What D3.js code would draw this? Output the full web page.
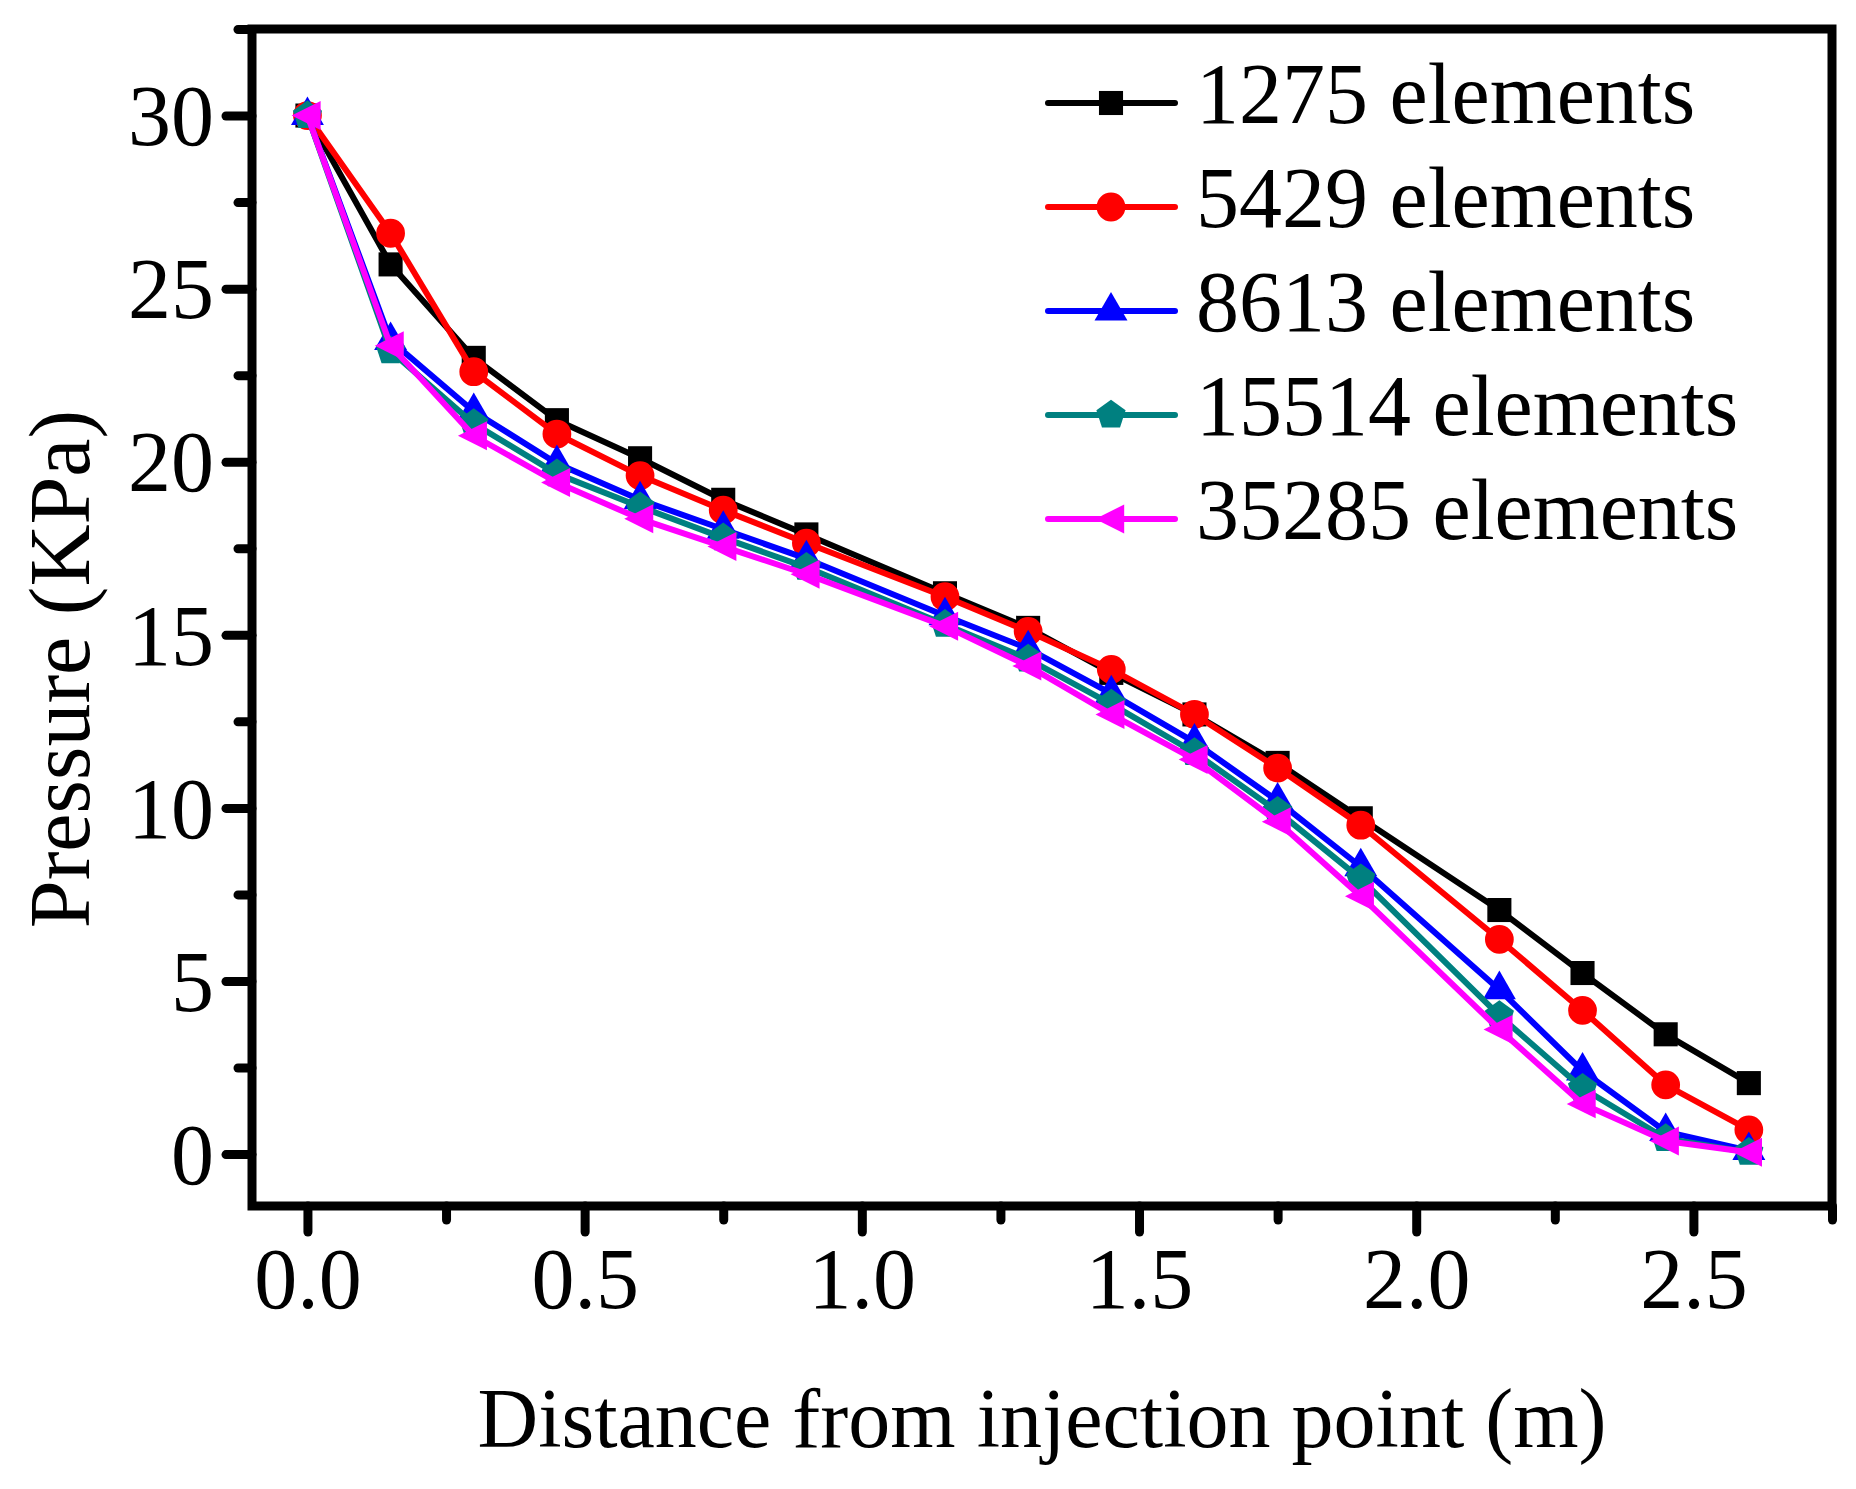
<!DOCTYPE html>
<html lang="en">
<head>
    <meta charset="UTF-8">
    <title>Pressure along the distance from injection point</title>
    <style>
        body { margin: 0; background: #fff; }
        text { font-family: "Liberation Serif", "Times New Roman", serif; fill: #000; }
    </style>
    <script src="https://cdn.jsdelivr.net/npm/d3@7"></script>
</head>
<body>
<svg width="1856" height="1489"></svg>

<script>
    // distance from the injection point (m)
    const distance = [0, 0.15, 0.3, 0.45, 0.6, 0.75, 0.9, 1.15, 1.3, 1.45, 1.6, 1.75, 1.9, 2.15, 2.3, 2.45, 2.6];

    // pressure (KPa) for each mesh
    const p1275  = [30, 25.7, 23.0, 21.2, 20.1, 18.9, 17.9, 16.2, 15.2, 13.9, 12.7, 11.3, 9.7, 7.05, 5.23, 3.46, 2.05];
    const p5429  = [30, 26.6, 22.6, 20.8, 19.6, 18.6, 17.65, 16.1, 15.1, 14.0, 12.7, 11.15, 9.5, 6.2, 4.15, 2.0, 0.7];
    const p8613  = [30, 23.5, 21.45, 19.95, 18.9, 18.05, 17.2, 15.55, 14.6, 13.3, 11.9, 10.2, 8.3, 4.75, 2.4, 0.65, 0.1];
    const p15514 = [30, 23.2, 21.1, 19.65, 18.7, 17.8, 16.95, 15.3, 14.3, 13.0, 11.6, 9.9, 7.95, 4.0, 1.9, 0.45, 0.05];
    const p35285 = [30, 23.35, 20.75, 19.4, 18.35, 17.55, 16.75, 15.25, 14.1, 12.7, 11.4, 9.6, 7.45, 3.6, 1.45, 0.38, 0.05];

    const seriesNames = ["1275 elements", "5429 elements", "8613 elements", "15514 elements", "35285 elements"];
    const xTicks = [0, 0.5, 1.0, 1.5, 2.0, 2.5];
    const yTicks = [0, 5, 10, 15, 20, 25, 30];

    let svg = d3.select("svg");

    const plotLeft = 252, plotRight = 1832, plotTop = 29, plotBottom = 1206;

    let x = d3.scaleLinear().domain([-0.1, 2.75]).range([plotLeft, plotRight]);
    let y = d3.scaleLinear().domain([-1.5, 32.5]).range([plotBottom, plotTop]);

    // pentagon ("house" shape) and left pointing triangle are not in d3
    const symbolPentagon = {
        draw: function (context, size) {
            const r = Math.sqrt(size / 2.378);
            for (let i = 0; i < 5; i++) {
                const a = -Math.PI / 2 + i * 2 * Math.PI / 5;
                if (i === 0) context.moveTo(r * Math.cos(a), r * Math.sin(a));
                else context.lineTo(r * Math.cos(a), r * Math.sin(a));
            }
            context.closePath();
        }
    };
    const symbolLeftTriangle = {
        draw: function (context, size) {
            const h = Math.sqrt(size / 0.75);
            context.moveTo(-h * 0.6, 0);
            context.lineTo(h * 0.5, -h * 0.55);
            context.lineTo(h * 0.5, h * 0.55);
            context.closePath();
        }
    };

    const series = [
        {name: seriesNames[0], values: p1275, color: "#000000", symbol: d3.symbolSquare, size: 580},
        {name: seriesNames[1], values: p5429, color: "#ff0000", symbol: d3.symbolCircle, size: 650},
        {name: seriesNames[2], values: p8613, color: "#0000ff", symbol: d3.symbolTriangle, size: 470},
        {name: seriesNames[3], values: p15514, color: "#008080", symbol: symbolPentagon, size: 560},
        {name: seriesNames[4], values: p35285, color: "#ff00ff", symbol: symbolLeftTriangle, size: 520}
    ];

    // axes: major ticks with labels, minor ticks without
    function minor(ticks) {
        return d3.map(ticks.slice(0, -1), function (d, i) { return (d + ticks[i + 1]) / 2; });
    }

    let xAxis = svg.append("g").attr("transform", `translate(0,${plotBottom})`)
        .call(d3.axisBottom(x).tickValues(xTicks).tickSize(26).tickPadding(14).tickFormat(d3.format(".1f")));
    svg.append("g").attr("transform", `translate(0,${plotBottom})`)
        .call(d3.axisBottom(x).tickValues(minor(xTicks).concat([2.75])).tickSize(14).tickFormat(""));

    let yAxis = svg.append("g").attr("transform", `translate(${plotLeft},0)`)
        .call(d3.axisLeft(y).tickValues(yTicks).tickSize(26).tickPadding(12));
    svg.append("g").attr("transform", `translate(${plotLeft},0)`)
        .call(d3.axisLeft(y).tickValues(minor(yTicks).concat([32.5])).tickSize(14).tickFormat(""));

    svg.selectAll(".domain").remove();
    svg.selectAll(".tick line").attr("stroke", "#000").attr("stroke-width", 9).attr("stroke-linecap", "round");
    svg.selectAll(".tick text").style("font-family", "Liberation Serif").style("font-size", "86px").attr("fill", "#000");
    yAxis.selectAll(".tick text").attr("dy", "0.34em");
    xAxis.selectAll(".tick text").attr("dy", "0.72em");

    // frame
    svg.append("rect")
        .attr("x", plotLeft).attr("y", plotTop)
        .attr("width", plotRight - plotLeft).attr("height", plotBottom - plotTop)
        .attr("fill", "none").attr("stroke", "#000").attr("stroke-width", 9);

    let line = d3.line()
        .x(function (d, i) { return x(distance[i]); })
        .y(function (d) { return y(d); });

    series.forEach(function (s) {
        let g = svg.append("g");
        g.append("path")
            .attr("d", line(s.values))
            .attr("fill", "none")
            .attr("stroke", s.color)
            .attr("stroke-width", 6)
            .attr("stroke-linejoin", "round");
        g.selectAll("path.marker")
            .data(s.values).enter().append("path")
            .attr("class", "marker")
            .attr("transform", function (d, i) { return `translate(${x(distance[i])},${y(d)})`; })
            .attr("d", d3.symbol().type(s.symbol).size(s.size))
            .attr("fill", s.color);
    });

    // legend
    let legend = svg.append("g").selectAll("g")
        .data(series).enter().append("g")
        .attr("transform", function (d, i) { return `translate(1048,${103 + i * 104})`; });
    legend.append("line")
        .attr("x1", 0).attr("x2", 127)
        .attr("stroke", function (d) { return d.color; })
        .attr("stroke-width", 6)
        .attr("stroke-linecap", "round");
    legend.append("path")
        .attr("transform", "translate(63,0)")
        .attr("d", function (d) { return d3.symbol().type(d.symbol).size(d.size)(); })
        .attr("fill", function (d) { return d.color; });
    legend.append("text")
        .attr("x", 148).attr("dy", "0.23em")
        .style("font-size", "86px")
        .text(function (d) { return d.name; });

    // axis titles
    svg.append("text")
        .attr("x", (plotLeft + plotRight) / 2).attr("y", 1447)
        .attr("text-anchor", "middle")
        .style("font-size", "84px")
        .text("Distance from injection point (m)");
    svg.append("text")
        .attr("transform", `translate(89,669)rotate(-90)`)
        .attr("text-anchor", "middle")
        .style("font-size", "86px")
        .text("Pressure (KPa)");
</script>
</body>
</html>
